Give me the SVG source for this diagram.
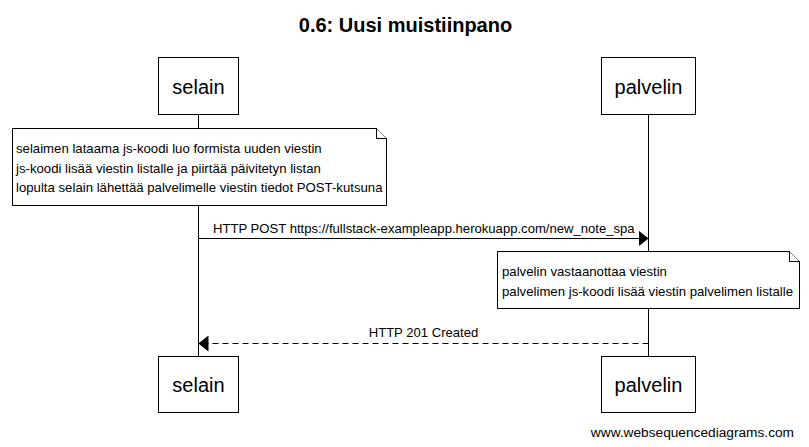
<svg xmlns="http://www.w3.org/2000/svg" width="809" height="447" viewBox="0 0 809 447">
<defs>
<style>
text{font-family:"Liberation Sans",Arial,sans-serif;fill:#000}
.title{font-size:20px;font-weight:bold}
.actor rect{fill:#fff;stroke:#000;stroke-width:1}
.actor text{font-size:20px}
.note path{fill:#fff;stroke:#000;stroke-width:1}
.note text{font-size:13.2px}
.msg{font-size:13.1px}
.life{stroke:#000;stroke-width:1}
.line{stroke:#000;stroke-width:1;fill:none}
.dash{stroke-dasharray:6,4}
</style>
<marker id="ah" markerWidth="10" markerHeight="16" refX="10" refY="8" orient="auto" markerUnits="userSpaceOnUse">
<path d="M0,0 L10,8 L0,16 Z" fill="#000"/>
</marker>
</defs>
<rect width="809" height="447" fill="#fff"/>
<text class="title" x="405.5" y="32" text-anchor="middle">0.6: Uusi muistiinpano</text>
<g id="lifelines">
<line class="life" x1="198.5" y1="115" x2="198.5" y2="357"/>
<line class="life" x1="648.5" y1="115" x2="648.5" y2="357"/>
</g>
<g id="selain-top" class="actor">
<rect x="158.5" y="57.5" width="80" height="57"/>
<text x="198.5" y="94" text-anchor="middle">selain</text>
</g>
<g id="palvelin-top" class="actor">
<rect x="601.5" y="57.5" width="94" height="57"/>
<text x="648.5" y="94" text-anchor="middle">palvelin</text>
</g>
<g id="note1" class="note">
<path d="M12.5,128.5 H376.5 L386.5,138.5 V205.5 H12.5 Z"/>
<path d="M376.5,128.5 V138.5 H386.5" fill="none"/>
<text x="16" y="153">selaimen lataama js-koodi luo formista uuden viestin</text>
<text x="16" y="172.5">js-koodi lisää viestin listalle ja piirtää päivitetyn listan</text>
<text x="16" y="192">lopulta selain lähettää palvelimelle viestin tiedot POST-kutsuna</text>
</g>
<g id="connectors">
<line class="line" x1="198.5" y1="238.5" x2="648.5" y2="238.5" marker-end="url(#ah)"/>
<text class="msg" x="213" y="233">HTTP POST https://fullstack-exampleapp.herokuapp.com/new_note_spa</text>
<line class="line dash" x1="648.5" y1="343.5" x2="198.5" y2="343.5" marker-end="url(#ah)"/>
<text class="msg" x="423.5" y="337" text-anchor="middle">HTTP 201 Created</text>
</g>
<g id="note2" class="note">
<path d="M497.5,251.5 H789.5 L799.5,261.5 V308.5 H497.5 Z"/>
<path d="M789.5,251.5 V261.5 H799.5" fill="none"/>
<text x="502" y="276">palvelin vastaanottaa viestin</text>
<text x="502" y="296">palvelimen js-koodi lisää viestin palvelimen listalle</text>
</g>
<g id="selain-bottom" class="actor">
<rect x="158.5" y="356.5" width="80" height="56"/>
<text x="198.5" y="392" text-anchor="middle">selain</text>
</g>
<g id="palvelin-bottom" class="actor">
<rect x="601.5" y="356.5" width="94" height="56"/>
<text x="648.5" y="392" text-anchor="middle">palvelin</text>
</g>
<text x="794" y="437" text-anchor="end" style="font-size:13.7px">www.websequencediagrams.com</text>
</svg>
